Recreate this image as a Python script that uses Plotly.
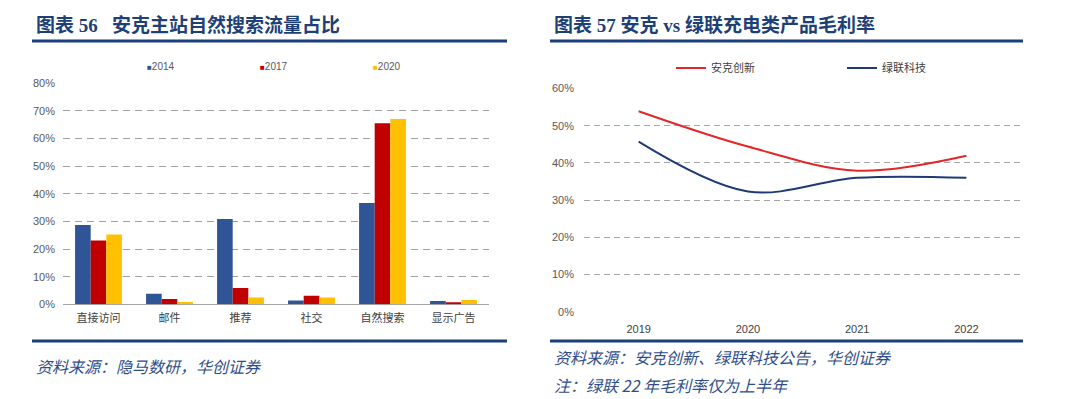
import plotly.graph_objects as go

# ---------------- data ----------------
bar_categories = ["直接访问", "邮件", "推荐", "社交", "自然搜索", "显示广告"]
years_bar = ["2014", "2017", "2020"]
share_2014 = [0.287, 0.038, 0.309, 0.014, 0.367, 0.012]
share_2017 = [0.231, 0.019, 0.059, 0.031, 0.655, 0.004]
share_2020 = [0.253, 0.008, 0.025, 0.025, 0.671, 0.016]

line_years = ["2019", "2020", "2021", "2022"]
anker_margin = [0.539, 0.444, 0.379, 0.419]
ugreen_margin = [0.457, 0.323, 0.360, 0.360]

bar_colors = ["#2F5597", "#C00000", "#FFC000"]
RED = "#E3262A"
NAVY = "#1F3A78"
TITLE_BLUE = "#1F3F77"
RULE_BLUE = "#1B3F7A"
SRC_BLUE = "#2E4D8A"
W, H = 1080, 399

def px(x):
    return x / W

def py(y):
    return 1 - y / H

fig = go.Figure()

for vals, name, col in zip([share_2014, share_2017, share_2020], years_bar, bar_colors):
    fig.add_trace(go.Bar(x=bar_categories, y=vals, name=name, marker_color=col,
                         marker_line_width=0, showlegend=False,
                         xaxis="x", yaxis="y"))

fig.add_trace(go.Scatter(x=line_years, y=anker_margin, name="安克创新", mode="lines",
                         line=dict(color=RED, width=2, shape="spline", smoothing=1),
                         xaxis="x2", yaxis="y2", legend="legend"))
fig.add_trace(go.Scatter(x=line_years, y=ugreen_margin, name="绿联科技", mode="lines",
                         line=dict(color=NAVY, width=2, shape="spline", smoothing=1),
                         xaxis="x2", yaxis="y2", legend="legend2"))

tickfont = dict(family="Liberation Sans, Noto Sans CJK SC", size=11, color="#595959")
catfont = dict(family="Liberation Sans, Noto Sans CJK SC", size=11, color="#404040")

fig.update_layout(
    template="none",
    width=W, height=H,
    margin=dict(l=0, r=0, t=0, b=0, pad=0, autoexpand=False),
    paper_bgcolor="white", plot_bgcolor="white",
    barmode="group", bargap=0.34, bargroupgap=0,
    hovermode=False,
    xaxis=dict(domain=[px(63), px(489)], type="category", showgrid=False,
               showline=False, zeroline=False, ticks="", tickfont=catfont,
               ticklabelstandoff=6, automargin=False, anchor="y"),
    yaxis=dict(domain=[py(304.3), py(83.3)], range=[0, 0.8], dtick=0.1,
               tickformat=".0%", showgrid=True, gridcolor="#A0A0A0", griddash="7px,5px",
               gridwidth=1, zeroline=True, zerolinecolor="#A6A6A6", zerolinewidth=1,
               showline=False, ticks="", tickfont=tickfont, ticklabelstandoff=7,
               automargin=False, anchor="x"),
    xaxis2=dict(domain=[px(584), px(1021)], type="category", showgrid=False,
                showline=False, zeroline=False, ticks="", tickfont=catfont,
                ticklabelstandoff=9, automargin=False, anchor="y2", range=[-0.5, 3.5]),
    yaxis2=dict(domain=[py(311.7), py(88.5)], range=[0, 0.6], dtick=0.1,
                tickformat=".0%", showgrid=True, gridcolor="#A6A6A6", griddash="6px,4px",
                gridwidth=1, zeroline=False, showline=False, ticks="",
                tickfont=tickfont, ticklabelstandoff=9, automargin=False, anchor="x2"),
    legend=dict(x=px(671), y=py(68), xanchor="left", yanchor="middle",
                orientation="h", font=dict(family="Noto Sans CJK SC", size=11, color="#404040"),
                bgcolor="rgba(0,0,0,0)", borderwidth=0),
    legend2=dict(x=px(842), y=py(68), xanchor="left", yanchor="middle",
                 orientation="h", font=dict(family="Noto Sans CJK SC", size=11, color="#404040"),
                 bgcolor="rgba(0,0,0,0)", borderwidth=0),
)

annotations = []
# left legend (bar keys)
for name, col, x in zip(years_bar, bar_colors, [145, 258, 371]):
    annotations.append(dict(
        x=px(x), y=py(66), xref="paper", yref="paper", xanchor="left", yanchor="middle",
        text=f'<span style="color:{col};font-size:8px">■</span>{name}', showarrow=False,
        font=dict(family="Liberation Sans", size=10, color="#595959")))

title_font = dict(family="Liberation Serif, Noto Sans CJK SC", size=19, color=TITLE_BLUE, weight="bold")
annotations.append(dict(x=px(34), y=py(25), xref="paper", yref="paper", xanchor="left",
                        yanchor="middle", showarrow=False, font=title_font,
                        text="图表 56&nbsp;&nbsp;&nbsp;安克主站自然搜索流量占比"))
annotations.append(dict(x=px(552), y=py(25), xref="paper", yref="paper", xanchor="left",
                        yanchor="middle", showarrow=False, font=title_font,
                        text="图表 57 安克 vs 绿联充电类产品毛利率"))

src_font = dict(family="Noto Sans CJK SC", size=16, color=SRC_BLUE, style="italic")
annotations.append(dict(x=px(34), y=py(366), xref="paper", yref="paper", xanchor="left",
                        yanchor="middle", showarrow=False, font=src_font,
                        text="资料来源：隐马数研，华创证券"))
annotations.append(dict(x=px(552), y=py(357), xref="paper", yref="paper", xanchor="left",
                        yanchor="middle", showarrow=False, font=src_font,
                        text="资料来源：安克创新、绿联科技公告，华创证券"))
annotations.append(dict(x=px(552), y=py(385), xref="paper", yref="paper", xanchor="left",
                        yanchor="middle", showarrow=False, font=src_font,
                        text="注：绿联 22 年毛利率仅为上半年"))

shapes = []
for (x0, x1) in [(32, 507), (550, 1023)]:
    for yy in (41, 341):
        shapes.append(dict(type="line", xref="paper", yref="paper",
                           x0=px(x0), x1=px(x1), y0=py(yy), y1=py(yy),
                           line=dict(color=RULE_BLUE, width=3)))

fig.update_layout(annotations=annotations, shapes=shapes)

fig.write_html("out.html", config={"displayModeBar": False},
               post_script="document.body.style.margin='0';document.body.style.overflow='hidden';")
